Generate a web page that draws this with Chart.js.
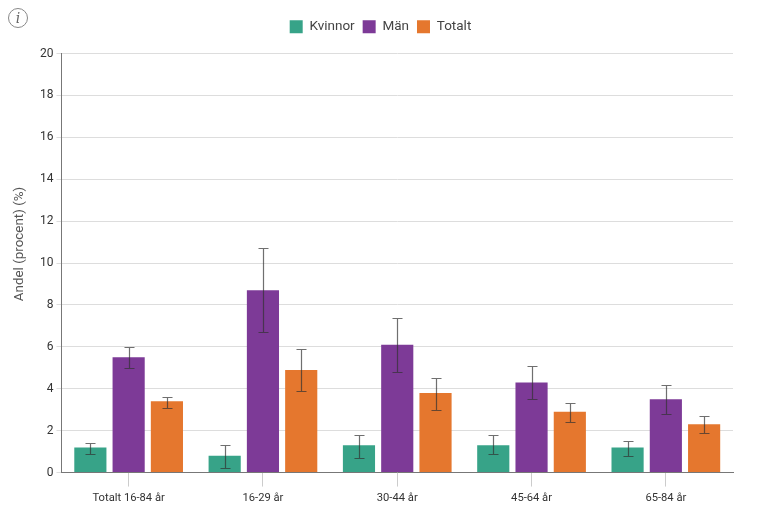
<!DOCTYPE html>
<html>
<head>
<meta charset="utf-8">
<script src="https://cdn.jsdelivr.net/npm/chart.js@4"></script>
<style>
  html, body { margin: 0; padding: 0; background: #fff; }
  #wrap { position: relative; width: 760px; height: 521px; }
  #info {
    position: absolute; left: 8px; top: 8px; width: 18px; height: 18px;
    border: 1px solid #888; border-radius: 50%; color: #666;
    font: italic 14px/18px "DejaVu Serif", serif; text-align: center;
  }
</style>
</head>
<body>
<div id="wrap">
  <div id="info">i</div>
  <canvas id="chart" width="760" height="521"></canvas>
</div>
<script>
const categories = ['Totalt 16-84 år', '16-29 år', '30-44 år', '45-64 år', '65-84 år'];
const yTicks = [0, 2, 4, 6, 8, 10, 12, 14, 16, 18, 20];
const yTitle = 'Andel (procent) (%)';

const kvinnor = [1.2, 0.8, 1.3, 1.3, 1.2];
const kvinnorLow = [0.9, 0.2, 0.7, 0.9, 0.8];
const kvinnorHigh = [1.4, 1.3, 1.8, 1.8, 1.5];

const man = [5.5, 8.7, 6.1, 4.3, 3.5];
const manLow = [5.0, 6.7, 4.8, 3.5, 2.8];
const manHigh = [6.0, 10.7, 7.4, 5.1, 4.2];

const totalt = [3.4, 4.9, 3.8, 2.9, 2.3];
const totaltLow = [3.1, 3.9, 3.0, 2.4, 1.9];
const totaltHigh = [3.6, 5.9, 4.5, 3.3, 2.7];

// whiskers are drawn after the bars, using the chart's own scales
const errorBars = {
  id: 'errorBars',
  afterDatasetsDraw(chart) {
    const ctx = chart.ctx;
    const y = chart.scales.y;
    chart.data.datasets.forEach((ds, i) => {
      chart.getDatasetMeta(i).data.forEach((bar, j) => {
        const top = Math.round(y.getPixelForValue(ds.high[j])) + 0.5;
        const bottom = Math.round(y.getPixelForValue(ds.low[j])) + 0.5;
        const x = Math.round(bar.x) + 0.5;
        ctx.save();
        ctx.strokeStyle = 'rgba(50, 50, 50, 0.7)';
        ctx.lineWidth = 1.2;
        ctx.beginPath();
        ctx.moveTo(x, top);
        ctx.lineTo(x, bottom);
        ctx.moveTo(x - 5, top);
        ctx.lineTo(x + 5, top);
        ctx.moveTo(x - 5, bottom);
        ctx.lineTo(x + 5, bottom);
        ctx.stroke();
        ctx.restore();
      });
    });
  }
};

// legend sits centred on the page, not on the plot, and higher than the layout puts it
const moveLegend = {
  id: 'moveLegend',
  afterLayout(chart) {
    chart.legend.left -= 4.5;
    chart.legend.right -= 4.5;
    chart.legend.top -= 10;
    chart.legend.bottom -= 10;
  }
};

// the axis title is not centred on the axis in the original, so the built-in one won't do
const axisTitle = {
  id: 'axisTitle',
  afterDraw(chart) {
    const ctx = chart.ctx;
    ctx.save();
    ctx.translate(20, 244);
    ctx.rotate(-Math.PI / 2);
    ctx.textAlign = 'center';
    ctx.textBaseline = 'middle';
    ctx.fillStyle = '#555';
    ctx.font = '13.4px Roboto';
    ctx.fillText(yTitle, 0, 0);
    ctx.restore();
  }
};

function makeDataset(label, values, low, high, color) {
  return {
    label: label,
    data: values,
    low: low,
    high: high,
    backgroundColor: color,
    categoryPercentage: 0.855,
    barPercentage: 0.84,
  };
}

new Chart(document.getElementById('chart'), {
  type: 'bar',
  data: {
    labels: categories,
    datasets: [
      makeDataset('Kvinnor', kvinnor, kvinnorLow, kvinnorHigh, '#37A388'),
      makeDataset('Män', man, manLow, manHigh, '#7D3A97'),
      makeDataset('Totalt', totalt, totaltLow, totaltHigh, '#E5772E'),
    ],
  },
  options: {
    responsive: false,
    animation: false,
    layout: { padding: { left: 37, right: 27, top: 22, bottom: 11 } },
    plugins: {
      tooltip: { enabled: false },
      legend: {
        position: 'top',
        labels: {
          boxWidth: 13,
          boxHeight: 13,
          padding: 8,
          color: '#444',
          font: { family: 'Roboto', size: 13.5 },
        },
      },
    },
    scales: {
      x: {
        grid: { offset: false, drawOnChartArea: false, drawTicks: true, tickLength: 14, color: '#ccc' },
        border: { color: '#777', width: 1 },
        ticks: { color: '#333', padding: 5, font: { family: 'Roboto', size: 11.2 }, maxRotation: 0 },
      },
      y: {
        min: 0,
        max: 20,
        afterBuildTicks(axis) {
          axis.ticks = yTicks.map(v => ({ value: v }));
        },
        grid: { color: '#ddd', tickLength: 5 },
        border: { color: '#777', width: 1 },
        ticks: { color: '#333', padding: 3, font: { family: 'Roboto', size: 12 } },
      },
    },
  },
  plugins: [errorBars, moveLegend, axisTitle],
});
</script>
</body>
</html>
